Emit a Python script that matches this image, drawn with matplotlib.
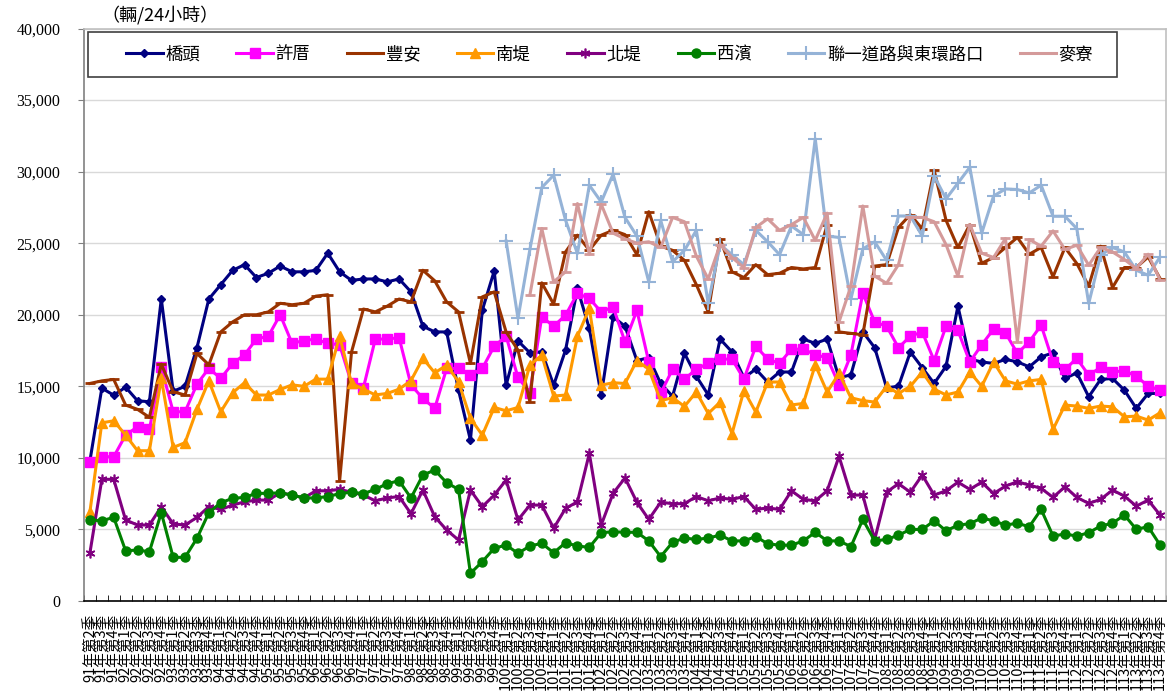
import numpy as np
import matplotlib
matplotlib.use("Agg")
import matplotlib.pyplot as plt
from matplotlib.patches import Rectangle

plt.rcParams['font.family'] = ['Noto Sans CJK TC', 'DejaVu Sans']

# ---------------- data ----------------
years = list(range(91, 114))
quarter_labels = [f"{y}年第{q}季" for y in years for q in (1, 2, 3, 4)][1:]  # 91Q2 .. 113Q4

qiaotou = [9800, 14870, 14380, 14940, 13990, 13920, 21100, 14650, 15000, 17700,
           21100, 22100, 23100, 23500, 22600, 22900, 23400, 23000, 23000, 23100,
           24300, 23000, 22400, 22500, 22500, 22300, 22500, 21600, 19200, 18800,
           18800, 14730, 11240, 20320, 23060, 15080, 18170, 17340, 17410, 15080,
           17530, 21840, 19040, 14380, 19850, 19200, 16800, 17000, 15200, 14300,
           17300, 15700, 14400, 18300, 17400, 15600, 16200, 15300, 16000, 16000,
           18300, 18000, 18300, 15600, 15800, 18800, 17700, 14900, 15000, 17400,
           16300, 15200, 16400, 20600, 16900, 16700, 16600, 16880, 16710, 16360,
           17060, 17340, 15550, 15940, 14270, 15480, 15550, 14730, 13460, 14500,
           14500]
xucuo = [9730, 10080, 10080, 11590, 12170, 11990, 16320, 13220, 13220, 15150,
         16250, 15550, 16600, 17200, 18300, 18500, 20000, 18000, 18200, 18300,
         18000, 17900, 15200, 14900, 18300, 18300, 18400, 15100, 14150, 13460,
         16250, 16250, 15780, 16250, 17800, 18500, 15620, 14550, 19850, 19200,
         19970, 21490, 21140, 20200, 20550, 18100, 20300, 16700, 14500, 16200,
         15500, 16200, 16600, 16900, 16900, 15500, 17800, 16900, 16600, 17600,
         17600, 17200, 17000, 15100, 17200, 21500, 19500, 19200, 17700, 18500,
         18800, 16800, 19200, 18900, 16700, 17900, 19000, 18740, 17300, 18110,
         19270, 16710, 16180, 16950, 15780, 16320, 16010, 16080, 15710, 15010,
         14730]
fengan = [15200, 15380, 15480, 13690, 13390, 12830, 16550, 14620, 14390, 17300,
          16500, 18800, 19500, 20000, 20000, 20200, 20800, 20700, 20800, 21300,
          21400, 8400, 17400, 20400, 20200, 20600, 21100, 20900, 23110, 22370,
          20900, 20200, 16600, 21250, 21600, 18800, 17530, 13920, 22230, 20740,
          24390, 25560, 24510, 25560, 25900, 25600, 24200, 27200, 24800, 24500,
          23800, 22100, 20200, 25300, 23000, 22600, 23500, 22800, 22900, 23300,
          23200, 23300, 26300, 18800, 18700, 18600, 23400, 23500, 26100, 27000,
          26000, 30100, 26600, 24700, 26300, 23600, 24000, 24700, 25400, 24230,
          24700, 22650, 24700, 23580, 22000, 24790, 21900, 23300, 23300, 24040,
          22530]
nandi = [6240, 12450, 12590, 11590, 10500, 10500, 15550, 10730, 11060, 13390,
         15380, 13220, 14550, 15250, 14390, 14390, 14780, 15100, 15000, 15500,
         15500, 18500, 15200, 14800, 14400, 14500, 14800, 15400, 16950, 15940,
         16480, 15310, 12760, 11590, 13520, 13290, 13520, 16480, 17180, 14320,
         14390, 18500, 20440, 15080, 15250, 15200, 16800, 16200, 14000, 14200,
         13600, 14600, 13100, 13900, 11700, 14700, 13200, 15300, 15300, 13700,
         13800, 16500, 14600, 15900, 14200, 14000, 13900, 15000, 14500, 15000,
         16000, 14800, 14400, 14600, 16000, 15000, 16700, 15380, 15150, 15380,
         15480, 11990, 13690, 13620, 13460, 13620, 13570, 12870, 12920, 12640,
         13150]
beidi = [3370, 8500, 8500, 5660, 5310, 5310, 6590, 5380, 5310, 5840,
         6590, 6400, 6700, 6930, 7050, 7050, 7560, 7400, 7200, 7700,
         7700, 7800, 7600, 7400, 7000, 7200, 7300, 6100, 7750, 5890,
         4960, 4260, 7750, 6590, 7400, 8450, 5660, 6700, 6700, 5080,
         6470, 6930, 10310, 5310, 7520, 8600, 6900, 5700, 6900, 6800,
         6800, 7300, 7000, 7200, 7100, 7300, 6400, 6500, 6400, 7700,
         7100, 7000, 7700, 10100, 7400, 7400, 4300, 7600, 8200, 7600,
         8800, 7400, 7700, 8300, 7800, 8300, 7500, 8030, 8330, 8100,
         7870, 7240, 7980, 7240, 6820, 7100, 7750, 7330, 6630, 7050,
         6010]
xibin = [5660, 5610, 5840, 3510, 3560, 3440, 6170, 3050, 3050, 4380,
         6170, 6870, 7170, 7240, 7520, 7520, 7560, 7400, 7200, 7200,
         7300, 7500, 7600, 7500, 7800, 8200, 8400, 7200, 8800, 9150,
         8260, 7800, 1930, 2750, 3680, 3910, 3330, 3840, 4030, 3370,
         4070, 3840, 3750, 4770, 4840, 4800, 4800, 4200, 3100, 4100,
         4400, 4300, 4400, 4600, 4200, 4200, 4500, 4000, 3900, 3900,
         4200, 4800, 4200, 4200, 3800, 5700, 4200, 4300, 4600, 5000,
         5000, 5600, 4900, 5300, 5400, 5800, 5600, 5310, 5430, 5190,
         6400, 4540, 4680, 4540, 4770, 5240, 5430, 6010, 5010, 5190,
         3910]
nan = np.nan
lianyi = [nan] * 35 + [
         25160, 19740, 24560, 28890, 29750, 26610, 24280, 29050, 27880, 29820,
         26800, 25500, 22300, 26600, 23700, 24500, 25900, 20800, 24900, 24200,
         23500, 25900, 25100, 24200, 26200, 25600, 32300, 25500, 25400, 21100,
         24600, 25100, 23800, 26900, 26900, 25500, 29700, 28100, 29200, 30300,
         25700, 28300, 28790, 28750, 28510, 29050, 26880, 26880, 26020, 20790,
         24160, 24700, 24390, 23110, 22760, 24040]
mailiao = [nan] * 37 + [
         21370, 26030, 22300, 23000, 27770, 24230, 27720, 25700,
         25300, 25000, 25100, 24700, 26800, 26500, 24100, 22500, 24900, 24000,
         23300, 26100, 26700, 25900, 26300, 26800, 25200, 27100, 19500, 22000,
         27600, 22700, 22200, 23500, 26800, 26800, 26500, 24900, 22700, 26300,
         24300, 24000, 25330, 18110, 25260, 24790, 25860, 24560, 24860, 23460,
         24700, 24390, 23860, 23230, 24230, 22420]

series_names = ['橋頭', '許厝', '豐安', '南堤', '北堤', '西濱', '聯一道路與東環路口', '麥寮']
series_values = [qiaotou, xucuo, fengan, nandi, beidi, xibin, lianyi, mailiao]

# ---------------- style ----------------
colors = ['#000080', '#FF00FF', '#993300', '#FF9900', '#800080', '#008000', '#95B3D7', '#D49A9A']
markers = ['D', 's', '_', '^', (6, 2, 0), 'o', '+', '_']
msizes = [4.5, 6.5, 7, 6.5, 7, 6.5, 10, 7]
mews = [1, 1, 2, 1, 1.2, 1, 1.5, 2]

W, H = 1168, 691
fig = plt.figure(figsize=(W / 100, H / 100), dpi=100)
ax = fig.add_axes([84 / W, 1 - 601 / H, (1166 - 84) / W, (601 - 28.5) / H])

x = np.arange(len(quarter_labels))
handles = []
for name, vals, c, m, ms, mew in zip(series_names, series_values, colors, markers, msizes, mews):
    h, = ax.plot(x, vals, color=c, lw=2.2, marker=m, markersize=ms,
                 markeredgewidth=mew, markerfacecolor=c, markeredgecolor=c,
                 label=name, clip_on=False, zorder=3)
    handles.append(h)

ax.set_xlim(-0.5, len(quarter_labels) - 0.5)
ax.set_ylim(0, 40000)
ax.set_yticks(np.arange(0, 40001, 5000))
ax.set_yticklabels([f"{v:,}" for v in range(0, 40001, 5000)])
for lab in ax.get_yticklabels():
    lab.set_fontfamily(['Liberation Serif', 'DejaVu Serif'])
    lab.set_fontsize(11.5)
ax.yaxis.grid(True, color='#D9D9D9', lw=1)
ax.set_axisbelow(True)
ax.tick_params(axis='y', length=4, direction='out', pad=13, color='#808080')

ax.set_xticks(x)
ax.set_xticklabels(quarter_labels, rotation=90, fontsize=10.5, va='top', ha='center')
ax.tick_params(axis='x', which='major', length=0, pad=9)
ax.set_xticks(np.arange(-0.5, len(quarter_labels), 1), minor=True)
ax.tick_params(axis='x', which='minor', length=4, direction='in', color='black')

ax.spines['left'].set_color('#808080')
ax.spines['bottom'].set_color('black')
ax.spines['top'].set_color('#C0C0C0')
ax.spines['right'].set_color('#C0C0C0')
for s in ax.spines.values():
    s.set_linewidth(1.2)

fig.text(101 / W, 1 - 15 / H, '（輛/24小時）', fontsize=13, va='center', ha='left')

# legend frame + legend
fig.add_artist(Rectangle((88 / W, 1 - 77 / H), (1117 - 88) / W, (77 - 32) / H,
                         transform=fig.transFigure, fill=True, facecolor='white',
                         edgecolor='#404040', lw=1.2, zorder=5))
leg = fig.legend(handles=handles, loc='center left', ncol=8,
                 bbox_to_anchor=(114 / W, 1 - 54.5 / H), frameon=False,
                 fontsize=12.5, handlelength=2.1, handletextpad=0.15,
                 columnspacing=2.1, numpoints=1, borderpad=0.2)
leg.set_zorder(6)

fig.savefig('out.png', dpi=100)
